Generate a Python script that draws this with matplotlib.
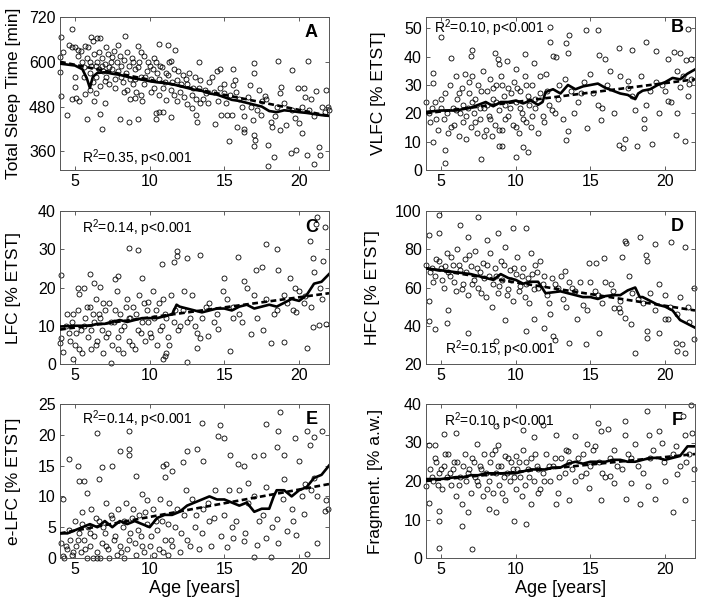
import matplotlib
matplotlib.use('Agg')
import matplotlib.pyplot as plt

plt.rcParams['font.family'] = ['Liberation Sans', 'DejaVu Sans']
plt.rcParams['mathtext.default'] = 'regular'

# ---------------- data ----------------
# A: total sleep time
age_a = [4.8, 4.1, 4.6, 4.8, 5.0, 5.2, 4.0, 4.2, 4.0, 4.1, 4.5, 5.0, 5.0, 4.8, 5.1, 5.25,
         5.8, 6.4, 5.7, 6.1, 6.5, 6.7, 6.8, 6.7, 7.0, 6.3, 5.7, 6.0, 8.35, 8.0, 8.6, 9.2,
         9.5, 9.0, 9.2, 9.4, 10.3, 10.4, 10.4, 10.6, 10.9, 11.4, 11.1, 10.6, 11.2, 11.7,
         11.4, 11.8, 12.5, 12.8, 13.2, 13.1, 13.3, 13.4, 13.8, 14.4, 14.5, 14.7, 14.8, 15.0,
         15.3, 15.6, 15.7, 15.6, 15.2, 15.5, 15.85, 16.3, 16.3, 16.3, 16.7, 17.0, 17.0, 16.9,
         17.0, 17.05, 17.0, 17.3, 17.45, 17.7, 17.9, 17.9, 18.1, 18.2, 18.35, 18.6, 18.7,
         18.8, 18.7, 19.1, 19.5, 19.45, 19.8, 19.9, 20.0, 20.2, 20.6, 20.3, 20.4, 20.65,
         20.5, 21.0, 21.3, 21.1, 21.4, 21.8, 21.7,
         5.5, 5.6, 5.8, 6.0, 6.1, 6.2, 6.3, 6.4, 6.5, 6.6, 6.7, 6.8, 6.9, 7.0, 7.1, 7.2,
         7.3, 7.4, 7.5, 7.6, 7.7, 7.8, 7.9, 8.0, 8.1, 8.2, 8.3, 8.4, 8.5, 8.6, 8.7, 8.8,
         8.9, 9.0, 9.1, 9.3, 9.4, 9.6, 9.8, 10.0, 10.1, 10.3, 10.5, 10.6, 10.8, 11.0, 11.2,
         11.4, 11.6, 11.8, 12.0, 12.2, 12.5, 12.8, 13.0, 13.3, 13.6, 14.0, 14.3, 14.6, 15.0,
         15.4, 16.0, 16.8, 17.5, 18.5, 19.5, 20.8, 21.5, 22.0,
         5.2, 5.4, 5.6, 5.9, 6.0, 6.2, 6.4, 6.6, 6.8, 7.0, 7.1, 7.3, 7.5, 7.7, 7.9, 8.1,
         8.3, 8.5, 8.7, 8.9, 9.0, 9.2, 9.4, 9.6, 9.7, 9.9, 10.1, 10.2, 10.4, 10.6, 10.7,
         10.9, 11.1, 11.3, 11.5, 11.6, 11.9, 12.1, 12.3, 12.4, 12.6, 12.9, 13.1, 13.4, 13.7,
         13.9, 14.2, 14.7, 15.1, 15.8, 16.2, 16.6, 17.2, 17.8, 18.4, 19.0, 19.7, 20.2, 21.0,
         21.9]
tst_a = [688, 666, 646, 640, 640, 632, 614, 625, 572, 507, 457, 560, 533, 500, 503, 494,
         446, 590, 643, 666, 663, 663, 421, 459, 489, 494, 513, 525, 670, 446, 439, 446,
         494, 503, 643, 625, 611, 464, 448, 465, 466, 453, 498, 648, 645, 632,
         602, 494, 487, 475, 439, 457, 600, 489, 516, 433, 575, 581, 457, 516,
         389, 580, 552, 539, 457, 457, 426, 455, 412, 421, 539, 570, 598, 444,
         403, 391, 374, 525, 457, 507, 378, 321, 439, 426, 346, 602, 516,
         532, 417, 430, 578, 355, 364, 530, 435, 408, 602, 530, 505, 471,
         349, 326, 371, 521, 349, 525, 466,
         600, 585, 610, 570, 590, 545, 620, 560, 600, 580, 535, 610, 575, 595, 560, 620,
         540, 600, 580, 630, 555, 600, 575, 615, 590, 545, 605, 570, 525, 590, 555, 610,
         540, 580, 520, 600, 560, 540, 575, 590, 555, 530, 570, 510, 585, 545, 565,
         525, 580, 550, 520, 565, 540, 510, 560, 530, 500, 545, 520, 495, 540,
         510, 500, 480, 495, 480, 470, 500, 480, 470,
         615, 630, 560, 640, 600, 655, 515, 625, 590, 548, 640, 585, 612, 530, 645, 560,
         520, 625, 500, 600, 555, 585, 510, 615, 560, 600, 520, 580, 600, 555, 590,
         530, 570, 600, 545, 510, 575, 540, 505, 555, 570, 530, 500, 550, 525,
         490, 560, 530, 490, 520, 480, 505, 470, 500, 455, 490, 450, 480, 455,
         480]
run_x_a = [4, 5, 5.5, 5.8, 6.0, 6.2, 6.5, 7, 7.5, 8, 8.5, 9, 9.5, 10, 10.5, 11, 11.5, 12,
           12.5, 13, 13.5, 14, 14.5, 15, 15.5, 16, 16.5, 17, 17.5, 18, 18.5, 19, 19.5, 20,
           20.5, 21, 21.5, 22]
run_y_a = [595, 590, 580, 555, 530, 560, 570, 572, 568, 565, 560, 555, 552, 548, 545, 543,
           540, 535, 530, 525, 522, 515, 512, 505, 498, 495, 490, 485, 480, 468, 465, 470,
           468, 465, 463, 460, 457, 455]
fit_a = [600, 455]

# B: VLFC
age_b = [5.0, 4.5, 4.5, 4.5, 5.3, 5.3, 5.7, 7.1, 7.0, 7.7, 8.6, 8.8, 8.9, 8.9, 9.1, 9.4,
         10.0, 10.0, 10.6, 10.8, 10.5, 11.2, 12.3, 12.3, 12.5, 12.7, 13.4, 13.6, 13.5, 13.5,
         13.4, 14.7, 14.8, 15.5, 15.6, 15.95, 15.7, 16.9, 16.9, 17.2, 17.3, 17.5, 17.8, 18.1,
         18.7, 18.6, 18.6, 19.1, 19.4, 19.6, 20.2, 20.2, 20.6, 20.7, 20.8, 21.0, 21.3, 21.5,
         21.7, 21.4, 21.6, 21.7, 21.0,
         4.0, 4.2, 4.3, 4.6, 4.8, 5.0, 5.2, 5.3, 5.5, 5.6, 5.8, 5.9, 6.0, 6.1, 6.2, 6.3, 6.4,
         6.5, 6.6, 6.7, 6.8, 6.9, 7.0, 7.1, 7.2, 7.3, 7.4, 7.5, 7.6, 7.8, 7.9, 8.0, 8.1, 8.2,
         8.3, 8.4, 8.5, 8.6, 8.7, 8.9, 9.0, 9.1, 9.2, 9.3, 9.5, 9.6, 9.8, 9.9, 10.0, 10.2,
         10.3, 10.4, 10.6, 10.7, 10.8, 11.0, 11.1, 11.3, 11.5, 11.6, 11.8, 12.0, 12.2, 12.6,
         12.9, 13.2, 13.7, 14.2, 14.6, 15.2, 15.8, 16.3, 16.6, 17.5, 18.0, 18.4, 19.0, 19.8,
         20.4, 21.2,
         4.4, 4.7, 5.0, 5.4, 5.7, 6.0, 6.2, 6.5, 6.7, 6.9, 7.1, 7.3, 7.6, 7.7, 7.9, 8.1, 8.3,
         8.5, 8.7, 8.9, 9.1, 9.3, 9.5, 9.7, 10.0, 10.1, 10.3, 10.5, 10.7, 10.9, 11.1, 11.3,
         11.6, 11.9, 12.1, 12.4, 12.8, 13.3, 13.9, 14.4, 15.0, 15.5, 16.1, 17.0, 17.8, 18.7,
         19.4, 20.0, 20.8, 21.5]
vlfc_b = [47, 34.4, 30.6, 10, 7, 2.4, 39.7, 42.4, 40.3, 3.8, 41.2, 39, 37.3, 8.3, 8.3, 38.5,
          35.5, 4.5, 40.9, 6.5, 8, 37.9, 50.3, 45.3, 40.3, 40, 44.8, 47.6, 41.2, 13.6,
          10.7, 49.5, 14.8, 49.5, 40.5, 39.1, 17.5, 42.9, 8.9, 7.7, 10.9, 31.4, 42.4, 8.3,
          45.3, 14.8, 18, 9.2, 42, 20.1, 24.3, 39.1, 41.7, 12.4, 20.1, 41.2, 10.4, 49.8,
          39.1, 38.9, 30.2, 32, 29.4,
          24, 20, 17, 24, 14, 22, 18, 27, 13, 30, 22, 16, 33, 25, 12, 20, 29,
          17, 34, 11, 22, 27, 15, 33, 20, 25, 13, 30, 18, 35, 22, 14, 28, 19,
          32, 12, 25, 16, 30, 21, 33, 14, 26, 18, 29, 22, 16, 31, 24, 13,
          28, 20, 33, 17, 26, 15, 30, 22, 13, 27, 19, 34, 23, 20,
          30, 18, 28, 24, 31, 27, 22, 35, 20, 29, 21, 33, 28, 30,
          24, 33,
          22, 18, 25, 20, 15, 21, 27, 23, 19, 31, 24, 17, 22, 28, 12, 23, 18,
          29, 24, 14, 30, 23, 19, 27, 15, 29, 22, 18, 30, 23, 19, 25,
          33, 17, 28, 21, 25, 32, 20, 27, 34, 23, 30, 33, 26, 23,
          31, 28, 35, 26]
run_x_b = [4, 5, 6, 7, 7.5, 8, 8.5, 9, 9.5, 10, 10.5, 11, 11.5, 11.8, 12, 12.5, 13, 13.5,
           14, 14.5, 15, 15.5, 16, 16.5, 17, 17.5, 18, 18.2, 18.5, 19, 19.5, 20, 20.5, 21,
           21.5, 22]
run_y_b = [20.5, 21, 21, 22, 23, 24, 22.5, 24, 24, 24.5, 23.5, 24.5, 23, 24, 27.5, 28.5, 27,
           30, 28.5, 29.5, 30, 30.5, 29, 28, 27, 26.5, 25, 27, 28, 28.5, 30, 31, 32.5, 32,
           34, 35.5]
fit_b = [20, 32]

# C: LFC
age_c = [4.1, 4.1, 4.0, 4.2, 4.9, 5.2, 5.3, 5.6, 6.0, 6.3, 6.7, 7.4, 7.7, 7.9, 8.6, 9.2,
         9.5, 9.9, 10.8, 10.9, 11.0, 11.1, 11.6, 11.8, 11.8, 12.5, 12.5, 13.4, 13.2, 13.4,
         13.9, 14.6, 15.0, 15.4, 15.6, 15.9, 16.3, 16.8, 17.1, 17.5, 17.8, 18.1, 18.5, 18.6,
         19.0, 19.4, 19.7, 19.8, 20.4, 20.5, 20.7, 20.9, 20.95, 21.1, 21.2, 21.3, 21.4, 21.6,
         21.7, 21.8,
         4.5, 4.6, 4.8, 5.0, 5.2, 5.4, 5.5, 5.7, 5.9, 6.0, 6.1, 6.3, 6.4, 6.5, 6.6, 6.8, 6.9,
         7.0, 7.2, 7.3, 7.5, 7.6, 7.8, 7.9, 8.0, 8.2, 8.3, 8.5, 8.6, 8.7, 8.9, 9.0, 9.2, 9.3,
         9.5, 9.7, 9.8, 10.0, 10.2, 10.3, 10.5, 10.6, 10.8, 11.0, 11.2, 11.4, 11.6, 11.9,
         12.2, 12.5, 12.8, 13.0, 13.5, 14.0, 14.5, 15.2, 16.0, 16.5, 17.2, 17.8, 18.5, 19.2,
         20.0, 20.8,
         4.4, 4.7, 4.9, 5.1, 5.3, 5.6, 5.8, 6.1, 6.2, 6.4, 6.7, 6.9, 7.1, 7.4, 7.7, 7.9, 8.1,
         8.4, 8.6, 8.8, 9.1, 9.4, 9.6, 9.9, 10.1, 10.4, 10.7, 10.9, 11.1, 11.3, 11.7, 12.0,
         12.3, 12.7, 13.2, 13.8, 14.3, 14.9, 15.6, 16.2, 17.0, 17.6, 18.3, 19.0, 19.6, 20.3,
         21.0, 21.5]
lfc_c = [23.3, 6.9, 5.6, 3.2, 1.3, 19.8, 18.4, 19.8, 23.5, 21.1, 20.2, 0.2, 22.3, 22.9,
         30.4, 29.7, 22.4, 16.2, 26.2, 1.2, 2, 2.9, 26.7, 28.2, 29.5, 0.4, 27.6, 28.5, 4.3,
         6.9, 7.4, 9.1, 22.6, 3.4, 12, 27.9, 21.7, 7.8, 24.6, 25.3, 31.5, 5.6, 30, 24.6,
         5.8, 22.4, 19.9, 13.6, 17.8, 4.3, 32.2, 9.6, 27.7, 36.6, 38.4, 10.2, 19.8, 27,
         35.7, 10.5,
         13, 8, 11, 5, 14, 9, 3, 12, 7, 15, 4, 11, 17, 6, 13, 9, 3,
         14, 8, 16, 5, 11, 19, 7, 13, 3, 10, 17, 6, 12, 15, 4, 9, 18,
         11, 6, 14, 8, 19, 12, 5, 16, 10, 13, 7, 18, 11, 9,
         14, 11, 18, 10, 12, 16, 13, 17, 13, 20, 12, 17, 14, 16,
         19, 15,
         10, 6, 13, 8, 4, 10, 15, 9, 13, 5, 12, 16, 7, 11, 14, 4, 9,
         15, 12, 5, 13, 8, 16, 11, 7, 14, 9, 17, 12, 5, 14, 10,
         19, 12, 8, 15, 11, 19, 15, 11, 18, 9, 13, 18, 14, 16,
         24, 17]
run_x_c = [4, 5, 6, 6.5, 7, 7.5, 8, 8.5, 9, 9.5, 10, 10.5, 11, 11.5, 11.8, 12, 12.5, 13,
           13.5, 14, 14.5, 15, 15.5, 16, 16.5, 17, 17.5, 18, 18.5, 19, 19.5, 20, 20.5, 21,
           21.5, 22]
run_y_c = [9.8, 10, 10, 10.5, 10.5, 11, 11.5, 11, 11.5, 12, 12, 12, 12.5, 13, 15.5, 15,
           14.5, 14, 13.5, 14, 14.5, 14.5, 14, 15, 15.5, 14.5, 15, 15.5, 15, 16, 17, 16.5,
           18, 21, 21.5, 23.5]
fit_c = [9, 18.5]

# D: HFC
age_d = [4.2, 4.2, 4.2, 4.6, 4.9, 4.9, 5.4, 5.5, 6.3, 6.8, 6.8, 7.5, 8.1, 8.8, 8.7, 9.3,
         9.8, 10.7, 10.7, 11.2, 11.9, 12.3, 12.5, 12.6, 13.3, 13.6, 14.1, 14.7, 14.9, 15.4,
         15.6, 15.9, 16.6, 16.9, 17.1, 17.3, 17.4, 17.3, 17.7, 18.0, 18.3, 18.7, 18.8, 18.8,
         18.8, 19.3, 19.6, 20.0, 20.2, 20.4, 20.7, 20.8, 21.1, 21.3, 21.3, 21.6, 21.9, 21.95,
         4.0, 4.3, 4.5, 4.7, 5.0, 5.2, 5.4, 5.6, 5.8, 6.0, 6.1, 6.3, 6.5, 6.6, 6.8, 7.0, 7.2,
         7.3, 7.5, 7.6, 7.8, 8.0, 8.2, 8.3, 8.5, 8.6, 8.8, 9.0, 9.1, 9.3, 9.5, 9.6, 9.8,
         10.0, 10.1, 10.3, 10.5, 10.6, 10.8, 11.0, 11.2, 11.4, 11.6, 11.8, 12.1, 12.4, 12.8,
         13.2, 13.6, 14.0, 14.5, 15.0, 15.5, 16.0, 16.5, 17.0, 17.6, 18.2, 19.0, 19.6, 20.3,
         21.0,
         4.4, 4.6, 4.9, 5.1, 5.3, 5.5, 5.7, 5.9, 6.2, 6.4, 6.7, 6.9, 7.1, 7.4, 7.7, 7.9, 8.1,
         8.4, 8.7, 8.9, 9.2, 9.4, 9.7, 9.9, 10.2, 10.4, 10.7, 10.9, 11.1, 11.3, 11.5, 11.9,
         12.2, 12.6, 13.0, 13.4, 13.8, 14.3, 14.8, 15.3, 15.8, 16.4, 17.0, 17.8, 18.5, 19.3,
         20.0, 20.8, 21.5]
hfc_d = [87.2, 53, 42.5, 38.1, 97.7, 88.4, 41.6, 48.1, 92.5, 86.3, 36.3, 96.8, 84.9, 88.4,
         31.9, 42.8, 91.2, 91.2, 37.5, 43.3, 39, 46, 34.6, 32.8, 68.8, 31, 43.3, 30.5, 72.6,
         72.6, 36.3, 75.4, 49.5, 49.5, 76.1, 84.2, 83.2, 43.9, 40.7, 25.8, 86.3, 77.2, 74,
         37.2, 33.7, 82.5, 36.3, 43.3, 43.3, 83.7, 31, 26.7, 30.2, 25.8, 81.4, 42.1, 33.3, 60,
         72, 68, 63, 75, 70, 60, 78, 66, 72, 58, 80, 69, 62, 75, 56, 71, 64,
         79, 60, 68, 73, 55, 66, 78, 62, 70, 57, 74, 64, 81, 59, 69, 53,
         67, 76, 61, 70, 55, 65, 78, 59, 68, 74, 62, 56, 65, 60,
         54, 63, 58, 51, 63, 56, 63, 58, 53, 66, 54, 57, 62, 50,
         55,
         70, 66, 74, 64, 71, 68, 76, 63, 72, 59, 68, 77, 62, 70, 57, 65, 72,
         50, 66, 61, 72, 56, 64, 70, 58, 66, 62, 52, 67, 72, 60, 66,
         52, 62, 66, 50, 60, 63, 48, 58, 52, 62, 47, 57, 52, 48,
         56, 46, 50]
run_x_d = [4, 5, 6, 7, 7.5, 8, 8.5, 9, 9.5, 10, 10.5, 11, 11.5, 12, 12.5, 13, 13.5, 14,
           14.5, 15, 15.5, 16, 16.5, 17, 17.5, 18, 18.3, 18.5, 19, 19.5, 20, 20.5, 21, 21.5,
           22]
run_y_d = [70, 69, 68, 67, 66, 65, 64, 67, 65, 64, 62, 63, 63, 57, 57.5, 58, 57, 56, 55,
           55, 54, 55.5, 56, 56, 58.5, 60, 55, 55, 53, 51, 50, 48, 43, 41, 39]
fit_d = [70, 48]

# E: e-LFC
age_e = [4.1, 4.2, 4.2, 4.6, 5.2, 5.3, 5.6, 5.8, 6.5, 6.6, 6.8, 7.5, 8.0, 8.6, 8.6, 8.6,
         9.1, 9.5, 9.8, 11.0, 10.9, 11.1, 11.5, 12.2, 12.5, 13.2, 13.5, 13.6, 14.1, 14.6,
         14.7, 15.0, 15.2, 15.4, 15.6, 15.9, 16.3, 16.3, 16.6, 16.95, 17.0, 17.2, 17.6, 17.8,
         17.8, 18.1, 18.5, 18.55, 18.6, 18.6, 18.7, 19.0, 19.0, 19.2, 19.7, 19.8, 20.0, 20.3,
         20.5, 20.5, 20.7, 20.8, 21.0, 21.2, 21.5, 21.7, 21.8,
         4.3, 4.5, 4.7, 4.8, 5.0, 5.1, 5.3, 5.4, 5.5, 5.6, 5.8, 5.9, 6.0, 6.1, 6.2, 6.3, 6.5,
         6.6, 6.7, 6.8, 7.0, 7.1, 7.2, 7.3, 7.5, 7.6, 7.8, 7.9, 8.0, 8.2, 8.3, 8.4, 8.5, 8.7,
         8.8, 9.0, 9.1, 9.3, 9.4, 9.6, 9.8, 10.0, 10.2, 10.3, 10.5, 10.6, 10.8, 11.0, 11.2,
         11.3, 11.5, 11.7, 12.0, 12.3, 12.5, 12.8, 13.0, 13.3, 13.6, 14.0, 14.4, 15.0, 15.5,
         16.0, 16.6, 17.3, 17.8, 19.5, 20.2, 21.0,
         4.4, 4.6, 4.9, 5.2, 5.5, 5.7, 6.0, 6.4, 6.5, 6.9, 7.1, 7.4, 7.7, 8.1, 8.3, 8.6, 8.9,
         9.2, 9.5, 9.7, 10.1, 10.4, 10.7, 10.9, 11.2, 11.4, 11.8, 12.1, 12.4, 12.7, 13.1,
         13.5, 13.9, 14.3, 14.8, 15.3, 15.8, 16.4, 17.0, 17.6, 18.2, 18.9, 19.6, 20.4, 21.2,
         21.9]
elfc_e = [2.4, 9.5, 0.4, 16, 15, 12.5, 12.5, 10.6, 20.3, 12.8, 14.7, 14.9, 17.4, 20.6, 17.7,
          16.7, 13.3, 10.4, 9.4, 13.1, 15, 15.3, 14.2, 15.6, 17.3, 17.7, 21.9, 15.7, 2, 19.8,
          21.6, 19.5, 1.8, 16.8, 3.3, 15.3, 15, 2.7, 12.2, 16.6, 0.2, 2.1, 16.8, 21.7,
          3.3, 0.2, 18.1, 6.3, 2.4, 20.6, 23.7, 12.8, 16.7, 4.4, 19.5, 3.8, 15.7, 7.2,
          20.6, 0.7, 18.4, 11.1, 19.6, 2.4, 20.6, 7.7, 9.4,
          0, 1.5, 3, 0.5, 6, 2, 4, 1, 7.5, 3, 0, 5, 2, 8, 0, 3.5, 1,
          6, 0, 2.5, 4, 9, 1.5, 0, 6.5, 3, 0.5, 8, 2, 5, 0, 9, 1.5, 4,
          6.5, 2.5, 0.5, 7, 3.5, 1, 5.5, 2, 8, 0.5, 4.5, 1.5, 6, 3, 0.5,
          9, 2, 5, 1, 7, 3, 9.5, 5, 1.5, 8, 6, 11, 7, 5,
          11, 9, 6, 11.5, 8, 10, 13,
          2, 4.5, 1, 3, 5.5, 1.5, 4, 6.5, 0, 5, 2, 7, 3.5, 1, 6, 3, 8,
          4.5, 2, 7.5, 3.5, 6, 9.5, 1, 5.5, 3, 8, 4, 11, 2, 7,
          4, 9, 6.5, 3.5, 11, 6, 4, 10, 7, 5, 9.5, 6, 12, 10,
          8]
run_x_e = [4, 4.5, 5, 5.5, 6, 6.5, 7, 7.5, 8, 8.5, 9, 9.5, 10, 10.5, 11, 11.5, 12, 12.5, 13,
           13.5, 14, 14.5, 15, 15.5, 16, 16.5, 17, 17.5, 18, 18.3, 18.5, 19, 19.5, 20, 20.5,
           21, 21.5, 22]
run_y_e = [4, 4, 4.5, 5, 5.5, 5, 6, 5, 6, 5.5, 6, 5.5, 5, 6.5, 7, 7, 7.5, 8.5, 9, 9.5, 10,
           9.5, 9.5, 9, 8.5, 9, 7.5, 8, 8, 10, 11, 11, 10, 11, 11.5, 13, 13.5, 15]
fit_e = [4, 12]

# F: fragmentation
age_f = [4.0, 4.2, 4.2, 4.6, 4.9, 4.9, 4.9, 5.2, 6.0, 6.4, 6.8, 7.1, 7.4, 8.2, 8.7, 8.7,
         8.8, 9.3, 9.9, 10.0, 10.5, 10.7, 11.0, 11.2, 11.5, 11.85, 12.7, 12.7, 13.5, 13.6,
         14.0, 14.4, 14.8, 14.9, 15.5, 15.7, 15.7, 16.2, 16.3, 16.6, 17.3, 17.3, 17.4, 17.7,
         18.0, 18.3, 18.8, 18.85, 18.9, 19.35, 19.6, 20.0, 20.5, 20.8, 21.2, 21.3, 21.3, 21.7,
         21.9, 21.8,
         4.3, 4.5, 4.7, 4.9, 5.1, 5.2, 5.4, 5.5, 5.7, 5.8, 6.0, 6.1, 6.3, 6.4, 6.6, 6.7, 6.9,
         7.0, 7.2, 7.3, 7.5, 7.6, 7.8, 7.9, 8.0, 8.2, 8.3, 8.5, 8.6, 8.7, 8.9, 9.0, 9.2, 9.3,
         9.5, 9.6, 9.8, 10.0, 10.2, 10.3, 10.5, 10.6, 10.8, 11.0, 11.2, 11.4, 11.6, 11.8,
         12.0, 12.3, 12.5, 12.8, 13.0, 13.3, 13.6, 14.0, 14.5, 15.0, 15.3, 15.8, 16.3, 16.8,
         17.5, 18.2, 19.0, 19.8, 20.5, 21.0, 21.6,
         4.4, 4.6, 4.8, 5.0, 5.3, 5.6, 5.9, 6.2, 6.5, 6.8, 7.1, 7.4, 7.7, 8.1, 8.4, 8.8, 9.1,
         9.4, 9.7, 9.9, 10.1, 10.4, 10.7, 10.9, 11.3, 11.5, 11.9, 12.2, 12.6, 12.9, 13.4,
         13.8, 14.2, 14.7, 15.2, 15.6, 16.0, 16.6, 17.1, 17.7, 18.5, 19.2, 19.9, 20.7, 21.4]
frag_f = [18.8, 29.3, 14.3, 29.3, 9.6, 2.5, 12.3, 32.1, 32.4, 8.3, 11.9, 2.3, 29.7, 12.8,
          34.2, 11.9, 29.3, 26.6, 9.5, 26.6, 33.3, 8.8, 14.1, 31.5, 16.8, 34.5, 32, 14.1,
          27.9, 15, 31.8, 21.3, 29.7, 18.1, 35.1, 33, 15, 33.5, 21.4, 19.5, 35.5, 32, 15.4,
          19.5, 29.7, 14.1, 38.2, 18.6, 32, 15.4, 32.9, 19.9, 11.9, 21.7, 36.9, 32, 15, 39.8,
          23, 32.4,
          23, 20, 25, 22, 18, 24, 21, 27, 19, 23, 16, 25, 21, 14, 27, 20, 23,
          17, 25, 21, 19, 24, 16, 27, 22, 20, 25, 17, 28, 22, 19, 24, 21, 15,
          26, 20, 23, 18, 25, 21, 28, 19, 23, 26, 20, 24, 18, 22,
          27, 20, 24, 17, 26, 22, 25, 20, 27, 24, 29, 22, 26, 24,
          27, 24, 26, 30, 27, 24, 27,
          21, 26, 19, 23, 27, 22, 25, 19, 24, 22, 26, 20, 23, 18, 27, 24, 17,
          22, 25, 21, 23, 16, 25, 21, 27, 23, 20, 24, 26, 21, 28,
          23, 26, 22, 28, 25, 21, 28, 23, 26, 22, 28, 25, 29, 25]
run_x_f = [4, 5, 6, 6.5, 7, 7.5, 8, 8.5, 9, 9.5, 10, 10.5, 11, 11.5, 12, 12.5, 13, 13.5, 14,
           14.5, 15, 15.5, 16, 16.5, 17, 17.5, 18, 18.5, 19, 19.5, 20, 20.5, 21, 21.5, 22]
run_y_f = [20.5, 20.5, 21, 21, 21.5, 21.5, 22, 22, 22, 22, 22, 22.5, 23, 23, 23, 23.5, 23.5,
           24.5, 25, 24.5, 25, 25, 25, 25.5, 25.5, 25, 25, 25.5, 26, 26, 25.5, 26, 26.5, 29,
           29]
fit_f = [20, 27]

fit_x = [4, 22]

panels = [
    (age_a, tst_a, run_x_a, run_y_a, fit_a, 'Total Sleep Time [min]', (310, 720), [360, 480, 600, 720],
     'R$^{2}$=0.35, p<0.001', 'A', (0.08, 0.08)),
    (age_b, vlfc_b, run_x_b, run_y_b, fit_b, 'VLFC [% ETST]', (0, 54), [0, 10, 20, 30, 40, 50],
     'R$^{2}$=0.10, p<0.001', 'B', (0.03, 0.93)),
    (age_c, lfc_c, run_x_c, run_y_c, fit_c, 'LFC [% ETST]', (0, 40), [0, 10, 20, 30, 40],
     'R$^{2}$=0.14, p<0.001', 'C', (0.08, 0.89)),
    (age_d, hfc_d, run_x_d, run_y_d, fit_d, 'HFC [% ETST]', (20, 100), [20, 40, 60, 80, 100],
     'R$^{2}$=0.15, p<0.001', 'D', (0.07, 0.095)),
    (age_e, elfc_e, run_x_e, run_y_e, fit_e, 'e-LFC [% ETST]', (0, 25), [0, 5, 10, 15, 20, 25],
     'R$^{2}$=0.14, p<0.001', 'E', (0.08, 0.9)),
    (age_f, frag_f, run_x_f, run_y_f, fit_f, 'Fragment. [% a.w.]', (0, 40), [0, 10, 20, 30, 40],
     'R$^{2}$=0.10, p<0.001', 'F', (0.066, 0.89)),
]

# axes rectangles in pixels (left, top, right, bottom) on a 709x605 canvas
W, H = 709, 605
cols = [(60, 329), (426, 695)]
rows = [(17, 170), (211, 364), (404, 558)]
ylab_x = [-0.145, -0.15, -0.145, -0.17, -0.145, -0.16]

fig = plt.figure(figsize=(W / 100, H / 100), dpi=100)

for i, (ax_x, ax_y, rx, ry, fy, ylab, ylim, yt, note, letter, npos) in enumerate(panels):
    r, c = divmod(i, 2)
    l, rt = cols[c]
    t, b = rows[r]
    ax = fig.add_axes([l / W, 1 - b / H, (rt - l) / W, (b - t) / H])

    ax.plot(ax_x, ax_y, 'o', mfc='none', mec='black', ms=3.6, mew=0.6, clip_on=False, zorder=2)
    ax.plot(rx, ry, '-', color='black', lw=1.9, zorder=3)
    ax.plot(fit_x, fy, '--', color='black', lw=1.9, dashes=(2.2, 1.3), zorder=3)

    ax.set_xlim(4, 22)
    ax.set_ylim(*ylim)
    ax.set_xticks([5, 10, 15, 20])
    ax.set_yticks(yt)
    ax.tick_params(direction='in', length=3, width=0.6, top=True, right=True,
                   labelsize=11.5, color='#444444', pad=3)
    for s in ax.spines.values():
        s.set_color('#555555')
        s.set_linewidth(0.7)

    ax.set_ylabel(ylab, fontsize=12.5)
    ax.yaxis.set_label_coords(ylab_x[i], 0.5)
    if r == 2:
        ax.set_xlabel('Age [years]', fontsize=13, labelpad=2)

    ax.text(npos[0], npos[1], note, transform=ax.transAxes, ha='left', va='center',
            fontsize=10, zorder=4)
    ax.text(0.935, npos[1] if npos[1] > 0.5 else 0.9, letter, transform=ax.transAxes,
            ha='center', va='center', fontsize=13, fontweight='bold', zorder=4)

fig.savefig('out.png', dpi=100)
